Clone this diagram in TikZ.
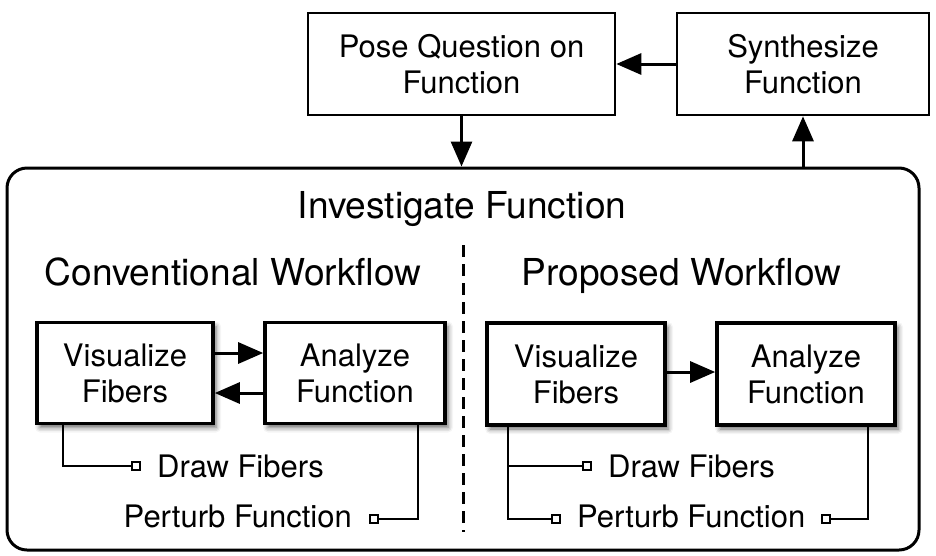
\documentclass[tikz,border=0pt]{standalone}
\usepackage{fontspec}
\setmainfont{TeX Gyre Heros}
\usetikzlibrary{arrows.meta,shadows.blur}
\begin{document}
\begin{tikzpicture}[x=1pt,y=-1pt,
  box/.style={draw, line width=2.6pt, fill=white, align=center, font=\fontsize{31}{36}\selectfont, inner sep=0pt},
  wbox/.style={box, line width=3.6pt, blur shadow={shadow xshift=3pt, shadow yshift=-4pt, shadow blur radius=5pt, shadow opacity=60}},
  arr/.style={line width=3pt, -{Triangle[length=25pt,width=21pt]}},
  thinline/.style={line width=1.8pt},
  sq/.style={draw, line width=1.6pt, fill=white, minimum size=8pt, inner sep=0pt},
  lbl/.style={font=\fontsize{31}{36}\selectfont, inner sep=0pt},
  ttl/.style={font=\fontsize{37.1}{44}\selectfont, inner sep=0pt}]
\useasboundingbox (0,0) rectangle (936,555);

% outer box
\node[draw, line width=3pt, rounded corners=20pt, minimum width=912pt, minimum height=382pt, inner sep=0pt] (outer) at (463,359) {};

% top boxes
\node[box, minimum width=307pt, minimum height=102pt] (pose) at (461.5,64) {Pose Question on\\Function};
\node[box, minimum width=252pt, minimum height=102pt] (synth) at (803,64) {Synthesize\\Function};

\draw[arr] (synth.west) -- (pose.east);
\draw[arr] (pose.south) -- (pose.south |- outer.north);
\draw[arr] (synth.south |- outer.north) -- (synth.south);

% titles
\node[ttl, anchor=base] (inv) at (462,218) {Investigate Function};
\node[ttl, anchor=base] (conv) at (233,285) {Conventional Workflow};
\node[ttl, anchor=base] (prop) at (681.5,285) {Proposed Workflow};

% dashed separator
\coordinate (dtop) at (463,245);
\coordinate (dbot) at (463,532);
\draw[line width=3pt, dash pattern=on 12pt off 7pt] (dtop) -- (dbot);

% squares and labels
\node[sq] (sq1) at (136,466) {};
\node[sq] (sq2) at (374,519) {};
\node[sq] (sq3) at (587,466) {};
\node[sq] (sq4) at (556,519) {};
\node[sq] (sq5) at (826,519) {};

\node[lbl, anchor=base west] (dfL) at (157,477) {Draw Fibers};
\node[lbl, anchor=base east] (pfL) at (352,527) {Perturb Function};
\node[lbl, anchor=base west] (dfR) at (608,477) {Draw Fibers};
\node[lbl, anchor=base west] (pfR) at (577,527) {Perturb Function};

% connector lines (drawn before boxes so shadows lie over them)
\coordinate (cL1) at (63,423);
\coordinate (cL2) at (418,423);
\coordinate (cR1) at (508,424);
\coordinate (cR2) at (868,424);
\draw[thinline] (cL1) |- (sq1.west);
\draw[thinline] (cL2) |- (sq2.east);
\draw[thinline] (cR1) |- (sq3.west);
\draw[thinline] (cR1) |- (sq4.west);
\draw[thinline] (cR2) |- (sq5.east);

% workflow boxes
\node[wbox, minimum width=176pt, minimum height=101pt] (visL) at (125,373) {Visualize\\Fibers};
\node[wbox, minimum width=180pt, minimum height=101pt] (anaL) at (355,373) {Analyze\\Function};
\node[wbox, minimum width=178pt, minimum height=102pt] (visR) at (576,374) {Visualize\\Fibers};
\node[wbox, minimum width=178pt, minimum height=102pt] (anaR) at (806,374) {Analyze\\Function};

\draw[arr] ([yshift=20pt]visL.east) -- ([yshift=20pt]anaL.west);
\draw[arr] ([yshift=-20pt]anaL.west) -- ([yshift=-20pt]visL.east);
\draw[arr] ([yshift=2pt]visR.east) -- ([yshift=2pt]anaR.west);
\end{tikzpicture}
\end{document}
